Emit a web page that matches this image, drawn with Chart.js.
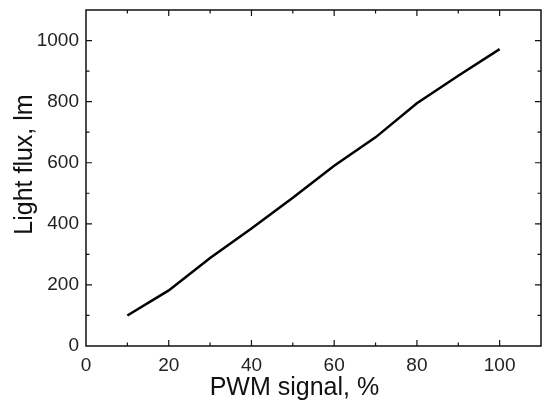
<!DOCTYPE html>
<html>
<head>
<meta charset="utf-8">
<script src="https://cdn.jsdelivr.net/npm/chart.js@4"></script>
<style>
  html, body { margin: 0; padding: 0; background: #fff; }
  #wrap { width: 550px; height: 408px; }
</style>
</head>
<body>
<div id="wrap"><canvas id="chart" width="550" height="408"></canvas></div>
<script>
// Data
const pwm = [10, 20, 30, 40, 50, 60, 70, 80, 90, 100];
const flux = [100, 182, 288, 385, 485, 590, 683, 795, 885, 972];
const xLabels = [0, 20, 40, 60, 80, 100];
const yLabels = [0, 200, 400, 600, 800, 1000];
const xTitle = 'PWM signal, %';
const yTitle = 'Light flux, lm';

const FONT = '"Liberation Sans", Arial, sans-serif';

// Frame, inward ticks on all four sides, and the axis titles
// (titles sit a bit off-centre in the original, so they're drawn here)
const frameTicks = {
  id: 'frameTicks',
  afterDraw(chart) {
    const { ctx, chartArea: a, scales } = chart;
    ctx.save();
    ctx.strokeStyle = '#111';
    ctx.lineWidth = 1.5;
    ctx.strokeRect(a.left, a.top, a.right - a.left, a.bottom - a.top);
    ctx.lineWidth = 1.2;
    ctx.beginPath();
    scales.x.ticks.forEach(t => {
      if (t.value <= 0 || t.value >= 110) return;
      const px = scales.x.getPixelForValue(t.value);
      const len = xLabels.includes(t.value) ? 6 : 3.5;
      ctx.moveTo(px, a.bottom); ctx.lineTo(px, a.bottom - len);
      ctx.moveTo(px, a.top); ctx.lineTo(px, a.top + len);
    });
    scales.y.ticks.forEach(t => {
      if (t.value <= 0 || t.value >= 1100) return;
      const py = scales.y.getPixelForValue(t.value);
      const len = yLabels.includes(t.value) ? 6 : 3.5;
      ctx.moveTo(a.left, py); ctx.lineTo(a.left + len, py);
      ctx.moveTo(a.right, py); ctx.lineTo(a.right - len, py);
    });
    ctx.stroke();

    ctx.fillStyle = '#111';
    ctx.font = '25px ' + FONT;
    ctx.textAlign = 'center';
    ctx.textBaseline = 'alphabetic';
    ctx.fillText(xTitle, a.left + (a.right - a.left) * 0.458, 395);
    ctx.translate(32, a.top + (a.bottom - a.top) * 0.46);
    ctx.rotate(-Math.PI / 2);
    ctx.fillText(yTitle, 0, 0);
    ctx.restore();
  }
};

new Chart(document.getElementById('chart'), {
  type: 'line',
  data: {
    datasets: [{
      data: pwm.map((x, i) => ({ x, y: flux[i] })),
      borderColor: '#000',
      borderWidth: 2.5,
      pointRadius: 0,
      fill: false,
      tension: 0
    }]
  },
  options: {
    responsive: false,
    animation: false,
    layout: { padding: { top: 10, right: 9, left: 0, bottom: 0 } },
    plugins: { legend: { display: false }, tooltip: { enabled: false } },
    scales: {
      x: {
        type: 'linear',
        min: 0, max: 110,
        grid: { display: false, drawTicks: false },
        border: { display: false },
        ticks: {
          stepSize: 10,
          padding: 8,
          color: '#222',
          font: { family: FONT, size: 19 },
          maxRotation: 0,
          autoSkip: false,
          callback: v => xLabels.includes(v) ? String(v) : ''
        },
        afterFit: s => { s.height = 62; }
      },
      y: {
        min: 0, max: 1100,
        grid: { display: false, drawTicks: false },
        border: { display: false },
        ticks: {
          stepSize: 100,
          padding: 7,
          color: '#222',
          font: { family: FONT, size: 19 },
          autoSkip: false,
          callback: v => yLabels.includes(v) ? String(v) : ''
        },
        afterFit: s => { s.width = 86; s.paddingTop = 0; s.paddingBottom = 0; }
      }
    }
  },
  plugins: [frameTicks]
});
</script>
</body>
</html>
